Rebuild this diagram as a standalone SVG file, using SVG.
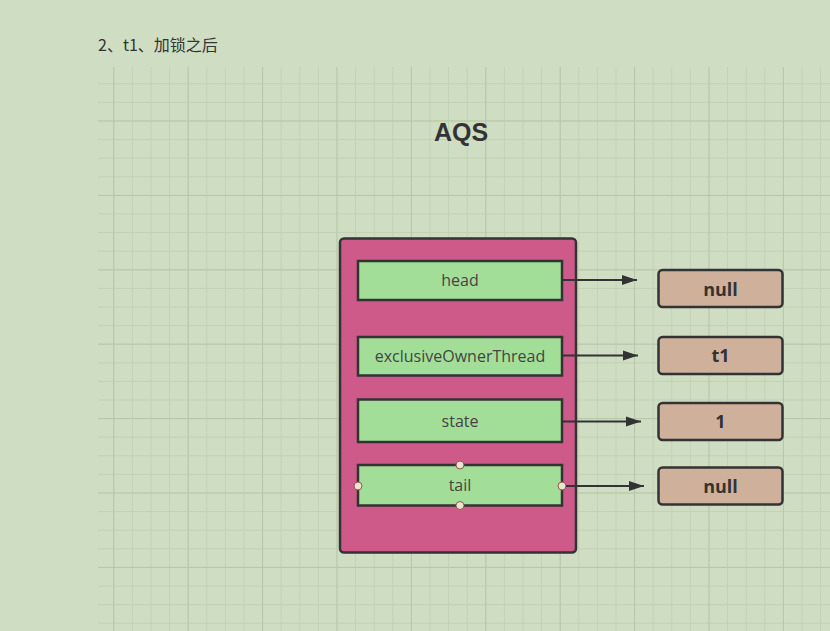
<svg xmlns="http://www.w3.org/2000/svg" width="830" height="631" viewBox="0 0 830 631">
<defs>
<pattern id="minor" patternUnits="userSpaceOnUse" x="113.3" y="83.3" width="18.6" height="18.6">
<path d="M0.5 0 V18.6 M0 0.5 H18.6" stroke="#c1d1b5" stroke-width="1" fill="none"/>
</pattern>
<pattern id="major" patternUnits="userSpaceOnUse" x="113.3" y="120.5" width="74.4" height="74.4">
<path d="M0.5 0 V74.4 M0 0.5 H74.4" stroke="#b6c7a9" stroke-width="1" fill="none"/>
</pattern>
<marker id="arr" markerUnits="userSpaceOnUse" markerWidth="16" markerHeight="12" refX="15" refY="6" orient="auto">
<path d="M0 1 L15 6 L0 11 Z" fill="#333"/>
</marker>
<style>
.field{fill:#a3de98;stroke:#333;stroke-width:2.5}
.fl{font-family:"Open Sans","Liberation Sans",sans-serif;font-size:16px;fill:#444;text-anchor:middle}
.val{fill:#cfb19b;stroke:#333;stroke-width:2.5}
.vl{font-family:"Open Sans","Liberation Sans",sans-serif;font-size:18px;font-weight:bold;fill:#333;text-anchor:middle}
.conn{stroke:#333;stroke-width:2;fill:none;marker-end:url(#arr)}
.pt{fill:#e6e6d2;stroke:#9a5050;stroke-width:1}
</style>
</defs>
<rect width="830" height="631" fill="#cfdec3"/>
<rect x="98" y="67" width="732" height="564" fill="url(#minor)"/>
<rect x="98" y="67" width="732" height="564" fill="url(#major)"/>
<text x="98" y="51" font-family="'Noto Sans CJK SC','Liberation Sans',sans-serif" font-size="16" fill="#333">2、t1、加锁之后</text>
<text x="461" y="141" font-family="'Liberation Sans',sans-serif" font-size="25" font-weight="bold" fill="#333" text-anchor="middle">AQS</text>
<g id="aqs">
<rect x="340" y="238.5" width="236" height="314" rx="4" fill="#cd5a88" stroke="#333" stroke-width="2.5"/>
</g>
<g id="head">
<rect class="field" x="358" y="261" width="204" height="39"/>
<text class="fl" x="460" y="286">head</text>
</g>
<g id="exclusiveOwnerThread">
<rect class="field" x="358" y="337" width="204" height="38.5"/>
<text class="fl" x="460" y="361.5">exclusiveOwnerThread</text>
</g>
<g id="state">
<rect class="field" x="358" y="399.5" width="204" height="42.5"/>
<text class="fl" x="460" y="426.5">state</text>
</g>
<g id="tail">
<rect class="field" x="358" y="465" width="204" height="40.5"/>
<text class="fl" x="460" y="491">tail</text>
<circle class="pt" cx="460" cy="465" r="4"/>
<circle class="pt" cx="460" cy="505.5" r="4"/>
<circle class="pt" cx="358" cy="486" r="4"/>
<circle class="pt" cx="562" cy="486" r="4"/>
</g>
<g id="val-head">
<rect class="val" x="658.5" y="270" width="124" height="37" rx="4"/>
<text class="vl" x="720.5" y="295.5">null</text>
</g>
<g id="val-owner">
<rect class="val" x="658.5" y="337" width="124" height="37" rx="4"/>
<text class="vl" x="720.5" y="362">t1</text>
</g>
<g id="val-state">
<rect class="val" x="658.5" y="403" width="124" height="37" rx="4"/>
<text class="vl" x="720.5" y="428">1</text>
</g>
<g id="val-tail">
<rect class="val" x="658.5" y="467.5" width="124" height="37" rx="4"/>
<text class="vl" x="720.5" y="492.5">null</text>
</g>
<g id="connectors">
<path class="conn" d="M563 280 H637"/>
<path class="conn" d="M563 355.5 H638"/>
<path class="conn" d="M563 421.5 H641"/>
<path class="conn" d="M566 486 H644"/>
</g>
</svg>
